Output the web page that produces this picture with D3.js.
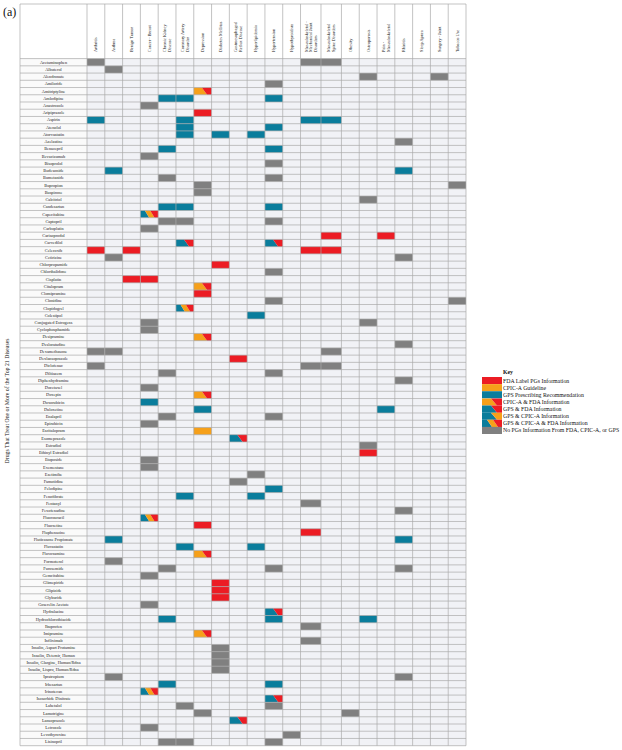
<!DOCTYPE html>
<html><head><meta charset="utf-8">
<script src="https://cdn.jsdelivr.net/npm/d3@7/dist/d3.min.js"></script>
<style>body{margin:0;background:#fff}svg{display:block}</style>
</head><body>
<svg id="c" width="622" height="750"></svg>
<script>
// ---------- DATA ----------
const diseases = ["Arthritis","Asthma","Benign Tumor","Cancer - Breast","Chronic Kidney Disease","Coronary Artery Disorder","Depression","Diabetes Mellitus","Gastroesophageal Reflux Disease","Hyperlipidemia","Hypertension","Hypothyroidism","Musculoskeletal - Mechanical Joint Disorders","Musculoskeletal Spine Disorders","Obesity","Osteoporosis","Pain - Musculoskeletal","Rhinitis","Sleep Apnea","Surgery - Joint","Tobacco Use"];
const diseaseLines = [["Arthritis"],["Asthma"],["Benign Tumor"],["Cancer - Breast"],["Chronic Kidney","Disease"],["Coronary Artery","Disorder"],["Depression"],["Diabetes Mellitus"],["Gastroesophageal","Reflux Disease"],["Hyperlipidemia"],["Hypertension"],["Hypothyroidism"],["Musculoskeletal -","Mechanical Joint","Disorders"],["Musculoskeletal","Spine Disorders"],["Obesity"],["Osteoporosis"],["Pain -","Musculoskeletal"],["Rhinitis"],["Sleep Apnea"],["Surgery - Joint"],["Tobacco Use"]];
const drugs = ["Acetaminophen","Albuterol","Alendronate","Amiloride","Amitriptyline","Amlodipine","Anastrozole","Aripiprazole","Aspirin","Atenolol","Atorvastatin","Azelastine","Benazepril","Bevacizumab","Bisoprolol","Budesonide","Bumetanide","Bupropion","Buspirone","Calcitriol","Candesartan","Capecitabine","Captopril","Carboplatin","Carisoprodol","Carvedilol","Celecoxib","Cetirizine","Chlorpropamide","Chlorthalidone","Cisplatin","Citalopram","Clomipramine","Clonidine","Clopidogrel","Colestipol","Conjugated Estrogens","Cyclophosphamide","Desipramine","Desloratadine","Dexamethasone","Dexlansoprazole","Diclofenac","Diltiazem","Diphenhydramine","Docetaxel","Doxepin","Doxorubicin","Duloxetine","Enalapril","Epirubicin","Escitalopram","Esomeprazole","Estradiol","Ethinyl Estradiol","Etoposide","Exemestane","Ezetimibe","Famotidine","Felodipine","Fenofibrate","Fentanyl","Fexofenadine","Fluorouracil","Fluoxetine","Fluphenazine","Fluticasone Propionate","Fluvastatin","Fluvoxamine","Formoterol","Furosemide","Gemcitabine","Glimepiride","Glipizide","Glyburide","Goserelin Acetate","Hydralazine","Hydrochlorothiazide","Ibuprofen","Imipramine","Infliximab","Insulin, Aspart Protamine","Insulin, Detemir, Human","Insulin, Glargine, Human/Rdna","Insulin, Lispro, Human/Rdna","Ipratropium","Irbesartan","Irinotecan","Isosorbide Dinitrate","Labetalol","Lamotrigine","Lansoprazole","Letrozole","Levothyroxine","Lisinopril"];
// categories: F = FDA label, C = CPIC-A, G = GPS, CF, GF, GC, GCF, N = none
const keyCodes = ["F","C","G","CF","GF","GC","GCF","N"];
const keyLabels = ["FDA Label PGs Information","CPIC-A Guideline","GPS Prescribing Recommendation","CPIC-A & FDA Information","GPS & FDA Information","GPS & CPIC-A Information","GPS & CPIC-A & FDA Information","No PGs Information From FDA, CPIC-A, or GPS"];
// [drug, disease index, category]
const cells = [
["Acetaminophen",0,"N"],["Acetaminophen",12,"N"],["Acetaminophen",13,"N"],
["Albuterol",1,"N"],
["Alendronate",15,"N"],["Alendronate",19,"N"],
["Amiloride",10,"N"],
["Amitriptyline",6,"CF"],
["Amlodipine",4,"G"],["Amlodipine",5,"G"],["Amlodipine",10,"G"],
["Anastrozole",3,"N"],
["Aripiprazole",6,"F"],
["Aspirin",0,"G"],["Aspirin",5,"G"],["Aspirin",12,"G"],["Aspirin",13,"G"],
["Atenolol",5,"G"],["Atenolol",10,"G"],
["Atorvastatin",5,"G"],["Atorvastatin",7,"G"],["Atorvastatin",9,"G"],
["Azelastine",17,"N"],
["Benazepril",4,"G"],["Benazepril",10,"G"],
["Bevacizumab",3,"N"],
["Bisoprolol",10,"N"],
["Budesonide",1,"G"],["Budesonide",17,"G"],
["Bumetanide",4,"N"],["Bumetanide",10,"N"],
["Bupropion",6,"N"],["Bupropion",20,"N"],
["Buspirone",6,"N"],
["Calcitriol",15,"N"],
["Candesartan",4,"G"],["Candesartan",5,"G"],["Candesartan",10,"G"],
["Capecitabine",3,"GCF"],
["Captopril",4,"N"],["Captopril",5,"N"],["Captopril",10,"N"],
["Carboplatin",3,"N"],
["Carisoprodol",13,"F"],["Carisoprodol",16,"F"],
["Carvedilol",5,"GF"],["Carvedilol",10,"GF"],
["Celecoxib",0,"F"],["Celecoxib",2,"F"],["Celecoxib",12,"F"],["Celecoxib",13,"F"],
["Cetirizine",1,"N"],["Cetirizine",17,"N"],
["Chlorpropamide",7,"F"],
["Chlorthalidone",10,"N"],
["Cisplatin",2,"F"],["Cisplatin",3,"F"],
["Citalopram",6,"CF"],
["Clomipramine",6,"F"],
["Clonidine",10,"N"],["Clonidine",20,"N"],
["Clopidogrel",5,"GCF"],
["Colestipol",9,"G"],
["Conjugated Estrogens",3,"N"],["Conjugated Estrogens",15,"N"],
["Cyclophosphamide",3,"N"],
["Desipramine",6,"CF"],
["Desloratadine",17,"N"],
["Dexamethasone",0,"N"],["Dexamethasone",1,"N"],["Dexamethasone",13,"N"],
["Dexlansoprazole",8,"F"],
["Diclofenac",0,"N"],["Diclofenac",12,"N"],["Diclofenac",13,"N"],
["Diltiazem",4,"N"],["Diltiazem",10,"N"],
["Diphenhydramine",17,"N"],
["Docetaxel",3,"N"],
["Doxepin",6,"CF"],
["Doxorubicin",3,"G"],
["Duloxetine",6,"G"],["Duloxetine",16,"G"],
["Enalapril",4,"N"],["Enalapril",10,"N"],
["Epirubicin",3,"N"],
["Escitalopram",6,"C"],
["Esomeprazole",8,"GF"],
["Estradiol",15,"N"],
["Ethinyl Estradiol",15,"F"],
["Etoposide",3,"N"],
["Exemestane",3,"N"],
["Ezetimibe",9,"N"],
["Famotidine",8,"N"],
["Felodipine",10,"G"],
["Fenofibrate",5,"G"],["Fenofibrate",9,"G"],
["Fentanyl",12,"N"],
["Fexofenadine",17,"N"],
["Fluorouracil",3,"GCF"],
["Fluoxetine",6,"F"],
["Fluphenazine",12,"F"],
["Fluticasone Propionate",1,"G"],["Fluticasone Propionate",17,"G"],
["Fluvastatin",5,"G"],["Fluvastatin",9,"G"],
["Fluvoxamine",6,"CF"],
["Formoterol",1,"N"],
["Furosemide",4,"N"],["Furosemide",10,"N"],["Furosemide",17,"N"],
["Gemcitabine",3,"N"],
["Glimepiride",7,"F"],
["Glipizide",7,"F"],
["Glyburide",7,"F"],
["Goserelin Acetate",3,"N"],
["Hydralazine",10,"GF"],
["Hydrochlorothiazide",4,"G"],["Hydrochlorothiazide",10,"G"],["Hydrochlorothiazide",15,"G"],
["Ibuprofen",12,"N"],
["Imipramine",6,"CF"],
["Infliximab",12,"N"],
["Insulin, Aspart Protamine",7,"N"],
["Insulin, Detemir, Human",7,"N"],
["Insulin, Glargine, Human/Rdna",7,"N"],
["Insulin, Lispro, Human/Rdna",7,"N"],
["Ipratropium",1,"N"],["Ipratropium",17,"N"],
["Irbesartan",4,"G"],["Irbesartan",10,"G"],
["Irinotecan",3,"GCF"],
["Isosorbide Dinitrate",10,"GF"],
["Labetalol",5,"N"],["Labetalol",10,"N"],
["Lamotrigine",6,"N"],["Lamotrigine",14,"N"],
["Lansoprazole",8,"GF"],
["Letrozole",3,"N"],
["Levothyroxine",11,"N"],
["Lisinopril",4,"N"],["Lisinopril",5,"N"],["Lisinopril",10,"N"]
];

// ---------- STYLE / LAYOUT ----------
const COL = {F:"#ec1c24", C:"#f6a01a", G:"#0a7d9c", N:"#808080"};
const cellBg = "#f1f2f6", lineCol = "#a9a9a9";
const labelL = 20, gridL = 87, gridR = 466, headT = 4, gridT = 58.6, gridB = 745.7;
const colWeight = diseases.map((d,i)=> (i===12||i===13) ? 1.15 : 1);
const cum = [0]; colWeight.forEach((w,i)=>cum.push(cum[i]+w));

const svg = d3.select("#c");
const xu = d3.scaleLinear().domain([0, cum[cum.length-1]]).range([gridL, gridR]);
const x = d => xu(cum[diseases.indexOf(d)]);
const xw = d => xu(cum[diseases.indexOf(d)+1]) - x(d);
const y = d3.scaleBand().domain(drugs).range([gridT, gridB]).padding(0);
const serif = "'Liberation Serif','DejaVu Serif',serif";

// background rows
const g = svg.append("g");
g.selectAll("rect.lab").data(drugs).join("rect")
  .attr("x", labelL).attr("y", d=>y(d)).attr("width", gridL-labelL).attr("height", y.bandwidth())
  .attr("fill","#fafafa");
g.selectAll("rect.bg").data(d3.cross(drugs, diseases)).join("rect")
  .attr("x", d=>x(d[1])).attr("y", d=>y(d[0])).attr("width", d=>xw(d[1])).attr("height", y.bandwidth())
  .attr("fill", cellBg);

// cell shapes (two / three colour diagonal splits)
function parts(code){
  if (code.length===1) return [[COL[code], [[0,0],[1,0],[1,1],[0,1]]]];
  if (code.length===2) {
    const a = COL[code[0]], b = COL[code[1]];
    return [[a, [[0,0],[0.45,0],[0.75,1],[0,1]]],[b, [[0.45,0],[1,0],[1,1],[0.75,1]]]];
  }
  return [[COL.G, [[0,0],[0.25,0],[0.5,1],[0,1]]],
          [COL.C, [[0.25,0],[0.55,0],[0.8,1],[0.5,1]]],
          [COL.F, [[0.55,0],[1,0],[1,1],[0.8,1]]]];
}
const cg = svg.append("g");
cells.forEach(c=>{
  const dz = diseases[c[1]];
  const x0 = x(dz), w = xw(dz), y0 = y(c[0]), h = y.bandwidth();
  parts(c[2]).forEach(p=>{
    cg.append("polygon").attr("fill", p[0])
      .attr("points", p[1].map(q=>[x0+q[0]*w, y0+q[1]*h].join(",")).join(" "));
  });
});

// grid lines
const lg = svg.append("g").attr("stroke", lineCol).attr("stroke-width", 0.7).attr("fill","none");
const hLines = drugs.map(d=>y(d)).concat([gridB]);
lg.selectAll("line.h").data(hLines).join("line")
  .attr("x1", labelL).attr("x2", gridR).attr("y1", d=>d).attr("y2", d=>d);
lg.append("line").attr("x1",labelL).attr("x2",gridR).attr("y1",headT).attr("y2",headT);
const vx = cum.map(c=>xu(c));
lg.selectAll("line.v").data(vx).join("line")
  .attr("x1", d=>d).attr("x2", d=>d).attr("y1", headT).attr("y2", gridB);
lg.append("line").attr("x1",labelL).attr("x2",labelL).attr("y1",headT).attr("y2",gridB);

// row labels
svg.append("g").selectAll("text").data(drugs).join("text")
  .attr("x", (labelL+gridL)/2).attr("y", d=>y(d)+y.bandwidth()/2+1.4)
  .attr("text-anchor","middle").attr("font-family", serif).attr("font-size", 4.3)
  .attr("fill","#222").text(d=>d);

// column labels
const hl = svg.append("g");
diseases.forEach((d,i)=>{
  const lines = diseaseLines[i];
  const cx = x(d) + xw(d)/2;
  const lh = 4.6;
  lines.forEach((ln,j)=>{
    const bx = cx + (j - (lines.length-1)/2)*lh + 1.4;
    hl.append("text").attr("transform", `translate(${bx},52) rotate(-90)`)
      .attr("font-family", serif).attr("font-size", 4.3).attr("fill","#222").text(ln);
  });
});

// axis title
svg.append("text").attr("transform", `translate(9,401) rotate(-90)`)
  .attr("text-anchor","middle").attr("font-family", serif).attr("font-size", 5.8).attr("fill","#222")
  .text("Drugs That Treat One or More of the Top 21 Diseases");

svg.append("text").attr("x",3).attr("y",16).attr("font-family",serif).attr("font-size",12).attr("fill","#111").text("(a)");

// key
const key = svg.append("g");
const ky = d3.scaleBand().domain(keyCodes).range([377, 434]);
key.append("text").attr("x",503).attr("y",374).attr("font-family",serif).attr("font-weight","bold")
  .attr("font-size",5.8).attr("fill","#111").text("Key");
keyCodes.forEach((k,i)=>{
  const x0 = 482, w = 20, y0 = ky(k), h = ky.bandwidth();
  parts(k).forEach(p=>{
    key.append("polygon").attr("fill", p[0])
      .attr("points", p[1].map(q=>[x0+q[0]*w, y0+q[1]*h].join(",")).join(" "));
  });
  key.append("text").attr("x",503).attr("y",y0+h/2+2).attr("font-family",serif).attr("font-size",5.8)
    .attr("fill","#111").text(keyLabels[i]);
});
</script>
</body></html>
